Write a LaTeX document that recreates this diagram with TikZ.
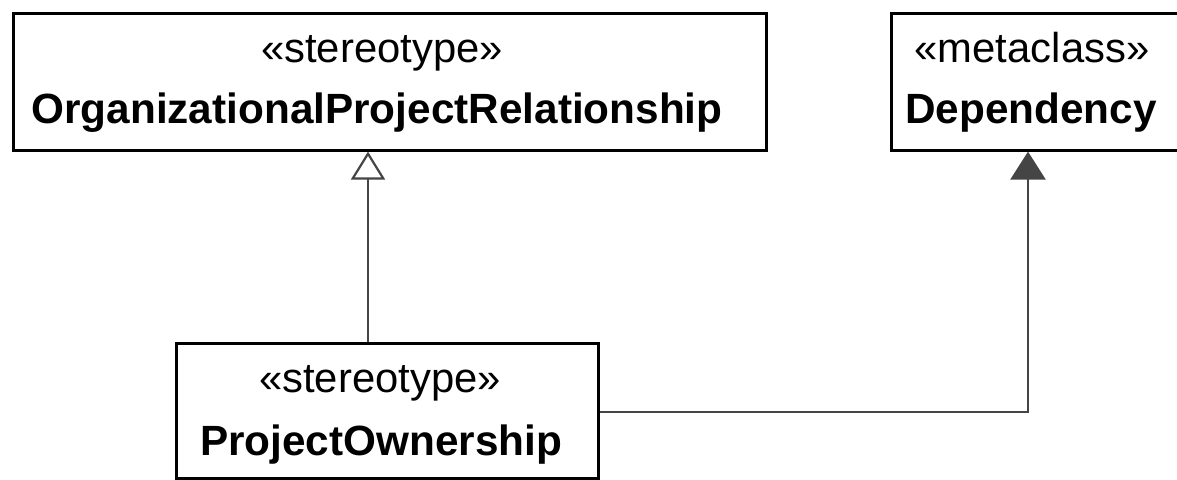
\documentclass[tikz,border=0pt]{standalone}
\usepackage{fontspec}
\setmainfont{Liberation Sans}
\usetikzlibrary{arrows.meta}
\definecolor{edgegray}{HTML}{454545}
\tikzset{
  classbox/.style={draw=black, line width=2.6pt, fill=white, inner sep=0pt, anchor=north west},
  stereo/.style={anchor=base, inner sep=0pt, font=\fontsize{41.8}{50}\selectfont},
  cname/.style={anchor=base, inner sep=0pt, font=\fontsize{42.3}{50}\selectfont\bfseries},
  generalization/.style={draw=edgegray, line width=2.6pt,
    -{Triangle[open, width=34pt, length=28pt, line width=2.2pt]}},
  extension/.style={draw=edgegray, line width=2.6pt,
    -{Triangle[width=35pt, length=28pt, fill=edgegray]}},
}
\begin{document}
\begin{tikzpicture}[x=1pt, y=-1pt]
  \clip (0,0) rectangle (1177,479);
  \fill[white] (0,0) rectangle (1177,479);

  % classes
  \node[classbox, minimum width=753pt, minimum height=137pt] (opr) at (12,12) {};
  \node[stereo] (oprst) at (382,62) {«stereotype»};
  \node[cname] (oprnm) at (377,123) {OrganizationalProjectRelationship};

  \node[classbox, minimum width=300pt, minimum height=137pt] (dep) at (890,12) {};
  \node[stereo] (depst) at (1032,62) {«metaclass»};
  \node[cname] (depnm) at (1031,123) {Dependency};

  \node[classbox, minimum width=422pt, minimum height=135pt] (own) at (175,342) {};
  \node[stereo] (ownst) at (380,392) {«stereotype»};
  \node[cname] (ownnm) at (381,455) {ProjectOwnership};

  % connector guides
  \coordinate (genx) at (368,0);
  \coordinate (extx) at (1028,0);
  \coordinate (exty) at (0,412);

  % generalization
  \draw[generalization] (own.north -| genx) -- (opr.south -| genx);
  % extension
  \draw[extension] (own.east |- exty) -| (dep.south -| extx);
\end{tikzpicture}
\end{document}
